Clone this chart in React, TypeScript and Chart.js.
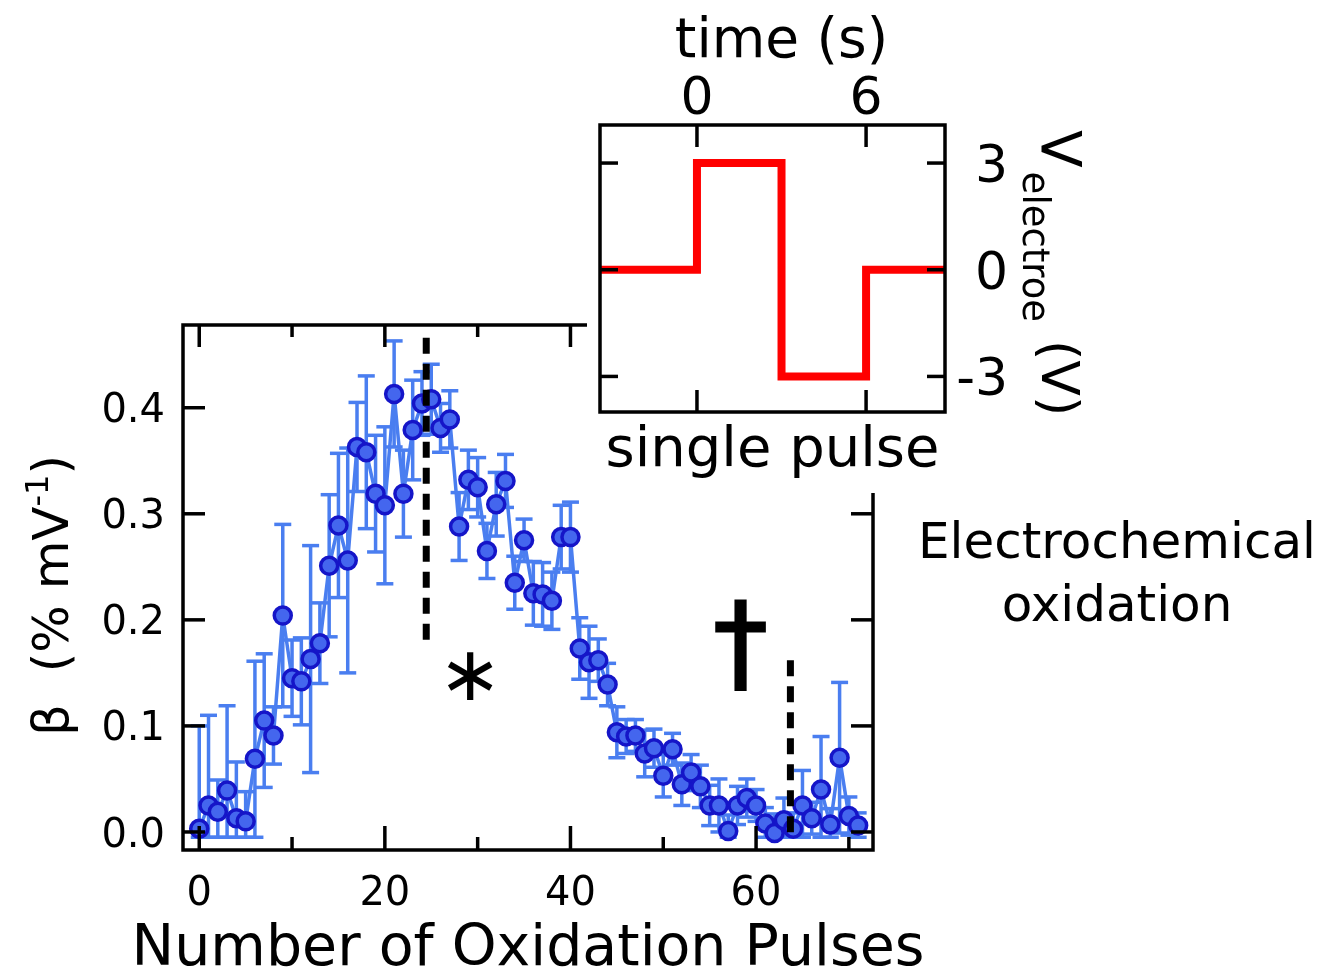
import React, { useEffect, useRef } from 'react';
import { Chart, registerables } from 'chart.js';

Chart.register(...registerables);

// ---- main panel data: sensitivity vs. number of oxidation pulses ----
const pulseNumber = [
  0, 1, 2, 3, 4, 5, 6, 7, 8, 9, 10, 11, 12, 13, 14, 15, 16, 17, 18, 19, 20, 21, 22, 23,
  24, 25, 26, 27, 28, 29, 30, 31, 32, 33, 34, 35, 36, 37, 38, 39, 40, 41, 42, 43, 44, 45, 46, 47,
  48, 49, 50, 51, 52, 53, 54, 55, 56, 57, 58, 59, 60, 61, 62, 63, 64, 65, 66, 67, 68, 69, 70, 71,
];
const beta = [
  0.003, 0.025, 0.019, 0.039, 0.013, 0.010, 0.069, 0.105, 0.091, 0.204, 0.145, 0.142,
  0.163, 0.178, 0.251, 0.289, 0.256, 0.363, 0.358, 0.319, 0.308, 0.413, 0.319, 0.379,
  0.404, 0.408, 0.381, 0.389, 0.288, 0.332, 0.325, 0.265, 0.309, 0.331, 0.235, 0.275,
  0.225, 0.224, 0.218, 0.278, 0.278, 0.173, 0.160, 0.162, 0.139, 0.094, 0.090, 0.091,
  0.074, 0.079, 0.053, 0.078, 0.045, 0.056, 0.043, 0.025, 0.025, 0.001, 0.025, 0.032,
  0.025, 0.008, -0.001, 0.011, 0.003, 0.025, 0.013, 0.040, 0.007, 0.070, 0.015, 0.006,
];
const betaErr = [
  0.097, 0.085, 0.030, 0.080, 0.053, 0.028, 0.092, 0.063, 0.027, 0.086, 0.036, 0.041,
  0.107, 0.038, 0.067, 0.068, 0.106, 0.042, 0.072, 0.055, 0.074, 0.050, 0.041, 0.047,
  0.030, 0.033, 0.023, 0.027, 0.032, 0.028, 0.028, 0.026, 0.030, 0.025, 0.025, 0.020,
  0.030, 0.030, 0.027, 0.030, 0.033, 0.029, 0.034, 0.020, 0.020, 0.024, 0.016, 0.015,
  0.022, 0.018, 0.020, 0.015, 0.020, 0.017, 0.020, 0.019, 0.025, 0.015, 0.018, 0.018,
  0.015, 0.015, 0.018, 0.021, 0.015, 0.033, 0.015, 0.050, 0.015, 0.071, 0.018, 0.012,
];
// lower ends of the error bars stop just below zero
const errFloor = -0.005;

const xMajorTicks = [0, 20, 40, 60];
const xMinorTicks = [10, 30, 50, 70];
const yTicks = [0, 0.1, 0.2, 0.3, 0.4];
const yTickLabels = ['0.0', '0.1', '0.2', '0.3', '0.4'];

// dashed markers (pulse number, bottom and top of the dash)
const markerX = [24.46, 63.7];
const markerFrom = [0.172, -0.0075];
const markerTo = [0.466, 0.162];

// symbols placed in the plot
const symbolText = ['∗', '†'];
const symbolX = [29.2, 58.3];
const symbolY = [0.147, 0.176];
const symbolHeight = [48, 92];
const symbolOutline = [0, 3];

// ---- inset data: a single voltage pulse ----
const pulseTime = [-4, 0, 3, 6, 10];
const pulseVolt = [0, 3, -3, 0, 0];
const timeTicks = [0, 6];
const voltTicks = [-3, 0, 3];

const FONT = '"DejaVu Sans", "Noto Sans", sans-serif';
const LINE_BLUE = '#4a7ef0';
const POINT_FILL = '#4466ee';
const POINT_EDGE = '#1515c8';

function seg(ctx: CanvasRenderingContext2D, x1: number, y1: number, x2: number, y2: number) {
  ctx.beginPath();
  ctx.moveTo(x1, y1);
  ctx.lineTo(x2, y2);
  ctx.stroke();
}

const errorBarPlugin = {
  id: 'errorBars',
  beforeDatasetsDraw(chart: any) {
    const ctx: CanvasRenderingContext2D = chart.ctx;
    const { left, right, top, bottom } = chart.chartArea;
    const xs = chart.scales.x;
    const ys = chart.scales.y;
    ctx.save();
    ctx.beginPath();
    ctx.rect(left, top, right - left, bottom - top);
    ctx.clip();
    ctx.strokeStyle = LINE_BLUE;
    ctx.lineWidth = 3.5;
    pulseNumber.forEach((n, i) => {
      const px = xs.getPixelForValue(n);
      const hi = ys.getPixelForValue(beta[i] + betaErr[i]);
      const lo = ys.getPixelForValue(Math.max(beta[i] - betaErr[i], errFloor));
      seg(ctx, px, hi, px, lo);
      seg(ctx, px - 8.5, hi, px + 8.5, hi);
      seg(ctx, px - 8.5, lo, px + 8.5, lo);
    });
    ctx.restore();
  },
};

function drawCentredGlyph(
  ctx: CanvasRenderingContext2D,
  text: string,
  cx: number,
  cy: number,
  height: number,
  outline: number,
) {
  ctx.font = `100px ${FONT}`;
  const m0 = ctx.measureText(text);
  const h0 = m0.actualBoundingBoxAscent + m0.actualBoundingBoxDescent;
  const size = (100 * (height - outline)) / h0;
  ctx.font = `${size}px ${FONT}`;
  const m = ctx.measureText(text);
  const w = m.actualBoundingBoxLeft + m.actualBoundingBoxRight;
  const x = cx - w / 2 + m.actualBoundingBoxLeft;
  const y = cy + (m.actualBoundingBoxAscent - m.actualBoundingBoxDescent) / 2;
  ctx.textAlign = 'left';
  ctx.textBaseline = 'alphabetic';
  ctx.fillText(text, x, y);
  if (outline > 0) {
    ctx.lineWidth = outline;
    ctx.lineJoin = 'miter';
    ctx.strokeText(text, x, y);
  }
}

const mainFramePlugin = {
  id: 'mainFrame',
  afterDatasetsDraw(chart: any) {
    const ctx: CanvasRenderingContext2D = chart.ctx;
    const { left, right, top, bottom } = chart.chartArea;
    const xs = chart.scales.x;
    const ys = chart.scales.y;
    ctx.save();

    // dashed markers
    ctx.strokeStyle = '#000';
    ctx.lineWidth = 7;
    ctx.lineCap = 'butt';
    ctx.setLineDash([16, 10]);
    markerX.forEach((mx, i) => {
      const px = xs.getPixelForValue(mx);
      seg(ctx, px, ys.getPixelForValue(markerTo[i]), px, ys.getPixelForValue(markerFrom[i]));
    });
    ctx.setLineDash([]);

    // symbols
    ctx.fillStyle = '#000';
    symbolText.forEach((s, i) => {
      drawCentredGlyph(
        ctx,
        s,
        xs.getPixelForValue(symbolX[i]),
        ys.getPixelForValue(symbolY[i]),
        symbolHeight[i],
        symbolOutline[i],
      );
    });

    // frame
    ctx.lineWidth = 3.5;
    ctx.strokeRect(left, top, right - left, bottom - top);

    // inward ticks
    yTicks.forEach((v) => {
      const py = ys.getPixelForValue(v);
      seg(ctx, left, py, left + 22, py);
      seg(ctx, right - 22, py, right, py);
    });
    xMajorTicks.forEach((v) => {
      const px = xs.getPixelForValue(v);
      seg(ctx, px, bottom, px, bottom - 24);
      seg(ctx, px, top, px, top + 22);
    });
    xMinorTicks.forEach((v) => {
      const px = xs.getPixelForValue(v);
      seg(ctx, px, bottom, px, bottom - 13);
      seg(ctx, px, top, px, top + 12);
    });

    // tick labels
    ctx.font = `40px ${FONT}`;
    ctx.textBaseline = 'alphabetic';
    ctx.textAlign = 'right';
    yTicks.forEach((v, i) => {
      ctx.fillText(yTickLabels[i], left - 18, ys.getPixelForValue(v) + 0.364 * 40);
    });
    ctx.textAlign = 'center';
    xMajorTicks.forEach((v) => {
      ctx.fillText(String(v), xs.getPixelForValue(v), bottom + 55);
    });

    // x title
    ctx.font = `57px ${FONT}`;
    ctx.fillText('Number of Oxidation Pulses', (left + right) / 2, bottom + 115);

    // y title, rotated, with superscript
    const big = `50px ${FONT}`;
    const small = `32px ${FONT}`;
    ctx.font = big;
    const w1 = ctx.measureText('β  (% mV').width;
    const w3 = ctx.measureText(')').width;
    ctx.font = small;
    const w2 = ctx.measureText('-1').width;
    const total = w1 + w2 + w3;
    ctx.save();
    ctx.translate(left - 115, (top + bottom) / 2 + 8);
    ctx.rotate(-Math.PI / 2);
    ctx.textAlign = 'left';
    let x0 = -total / 2;
    ctx.font = big;
    ctx.fillText('β  (% mV', x0, 0);
    x0 += w1;
    ctx.font = small;
    ctx.fillText('-1', x0, -20);
    x0 += w2;
    ctx.font = big;
    ctx.fillText(')', x0, 0);
    ctx.restore();

    // side label
    ctx.font = `50px ${FONT}`;
    ctx.textAlign = 'center';
    ctx.fillText('Electrochemical', right + 244, top + 233);
    ctx.fillText('oxidation', right + 244, top + 296);

    ctx.restore();
  },
};

const insetFramePlugin = {
  id: 'insetFrame',
  afterDatasetsDraw(chart: any) {
    const ctx: CanvasRenderingContext2D = chart.ctx;
    const { left, right, top, bottom } = chart.chartArea;
    const xs = chart.scales.x;
    const ys = chart.scales.y;
    ctx.save();
    ctx.strokeStyle = '#000';
    ctx.fillStyle = '#000';
    ctx.lineWidth = 3.5;
    ctx.strokeRect(left, top, right - left, bottom - top);
    timeTicks.forEach((t) => {
      const px = xs.getPixelForValue(t);
      seg(ctx, px, top, px, top + 22);
      seg(ctx, px, bottom, px, bottom - 22);
    });
    voltTicks.forEach((v) => {
      const py = ys.getPixelForValue(v);
      seg(ctx, left, py, left + 18, py);
      seg(ctx, right - 18, py, right, py);
    });

    // tick labels
    ctx.font = `52px ${FONT}`;
    ctx.textBaseline = 'alphabetic';
    ctx.textAlign = 'center';
    timeTicks.forEach((t) => {
      ctx.fillText(String(t), xs.getPixelForValue(t), top - 11);
    });
    ctx.textAlign = 'right';
    voltTicks.forEach((v) => {
      ctx.fillText(String(v), right + 63, ys.getPixelForValue(v) + 0.364 * 52);
    });

    // axis titles
    ctx.textAlign = 'center';
    ctx.font = `55px ${FONT}`;
    const midTime = (xs.getPixelForValue(timeTicks[0]) + xs.getPixelForValue(timeTicks[1])) / 2;
    ctx.fillText('time (s)', midTime, top - 68);
    ctx.font = `56px ${FONT}`;
    ctx.fillText('single pulse', (left + right) / 2, bottom + 54);

    // right title, reading downwards, with subscript
    ctx.save();
    ctx.translate(right + 97, top + 5);
    ctx.rotate(Math.PI / 2);
    ctx.textAlign = 'left';
    ctx.font = `55px ${FONT}`;
    ctx.fillText('V', 0, 0);
    let y0 = ctx.measureText('V').width + 4;
    ctx.font = `37px ${FONT}`;
    ctx.fillText('electroe', y0, 19);
    y0 += ctx.measureText('electroe').width + 18;
    ctx.font = `52px ${FONT}`;
    ctx.fillText('(V)', y0, 0);
    ctx.restore();

    ctx.restore();
  },
};

export default function App() {
  const mainRef = useRef<HTMLCanvasElement>(null);
  const insetRef = useRef<HTMLCanvasElement>(null);

  useEffect(() => {
    if (!mainRef.current || !insetRef.current) return;

    const main = new Chart(mainRef.current, {
      type: 'line',
      data: {
        datasets: [
          {
            data: pulseNumber.map((n, i) => ({ x: n, y: beta[i] })),
            borderColor: LINE_BLUE,
            borderWidth: 3.5,
            pointRadius: 8.5,
            pointBorderWidth: 3.5,
            pointBackgroundColor: POINT_FILL,
            pointBorderColor: POINT_EDGE,
            tension: 0,
          },
        ],
      },
      options: {
        animation: false,
        responsive: false,
        devicePixelRatio: 1,
        events: [],
        layout: { padding: { left: 183, top: 325, right: 454, bottom: 126 } },
        scales: {
          x: { type: 'linear', min: -1.75, max: 72.6, display: false },
          y: { type: 'linear', min: -0.017, max: 0.478, display: false },
        },
        plugins: { legend: { display: false }, tooltip: { enabled: false } },
      },
      plugins: [errorBarPlugin, mainFramePlugin],
    } as any);

    const inset = new Chart(insetRef.current, {
      type: 'line',
      data: {
        datasets: [
          {
            data: pulseTime.map((t, i) => ({ x: t, y: pulseVolt[i] })),
            borderColor: '#ff0000',
            borderWidth: 8,
            pointRadius: 0,
            stepped: true,
            borderJoinStyle: 'miter',
          },
        ],
      },
      options: {
        animation: false,
        responsive: false,
        devicePixelRatio: 1,
        events: [],
        layout: { padding: { left: 13, top: 125, right: 382, bottom: 81 } },
        scales: {
          x: { type: 'linear', min: -3.44, max: 8.8, display: false },
          y: { type: 'linear', min: -4.0, max: 4.07, display: false },
        },
        plugins: { legend: { display: false }, tooltip: { enabled: false } },
      },
      plugins: [insetFramePlugin],
    } as any);

    return () => {
      main.destroy();
      inset.destroy();
    };
  }, []);

  return (
    <div style={{ position: 'absolute', left: 0, top: 0, width: 1327, height: 976, background: '#fff', overflow: 'hidden' }}>
      <canvas ref={mainRef} width={1327} height={976} style={{ position: 'absolute', left: 0, top: 0, width: 1327, height: 976 }} />
      <canvas
        ref={insetRef}
        width={740}
        height={493}
        style={{ position: 'absolute', left: 587, top: 0, width: 740, height: 493, background: '#fff' }}
      />
    </div>
  );
}
